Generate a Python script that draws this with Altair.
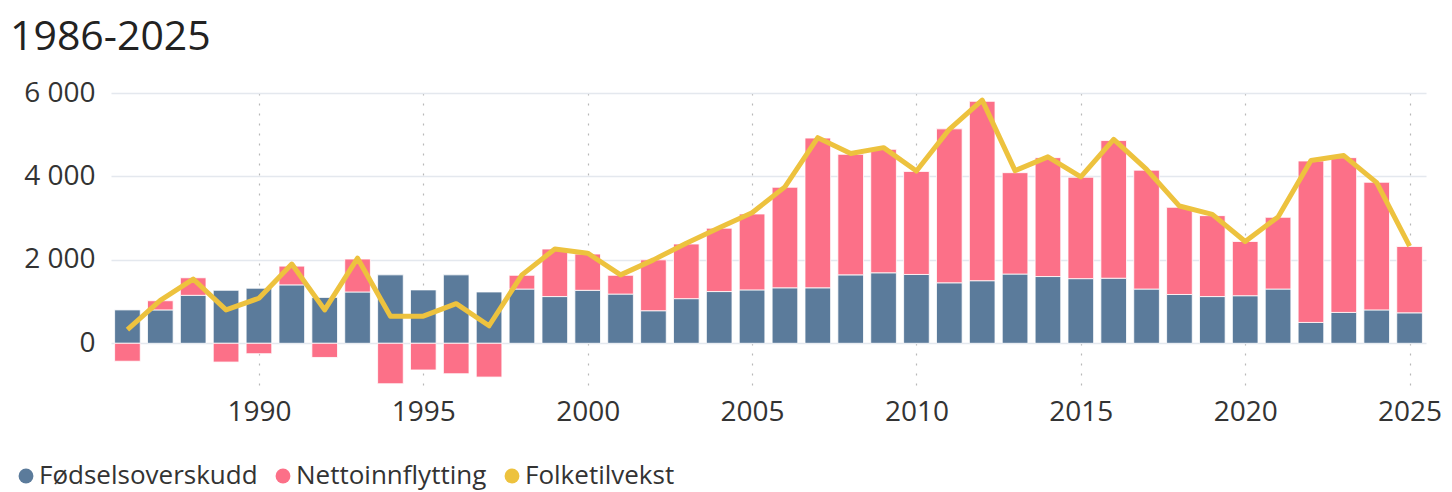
import altair as alt
import pandas as pd

years = list(range(1986, 2026))
fodselsoverskudd = [800, 800, 1150, 1270, 1320, 1400, 1100, 1230, 1640, 1280,
                    1640, 1230, 1300, 1120, 1270, 1180, 780, 1070, 1240, 1280,
                    1330, 1330, 1640, 1690, 1650, 1450, 1500, 1660, 1600, 1550,
                    1560, 1300, 1170, 1120, 1140, 1300, 500, 740, 800, 730]
nettoinnflytting = [-430, 220, 420, -450, -250, 450, -340, 790, -970, -640,
                    -730, -810, 330, 1140, 870, 450, 1220, 1310, 1520, 1820,
                    2410, 3590, 2890, 2960, 2470, 3690, 4300, 2430, 2850, 2430,
                    3300, 2850, 2090, 1940, 1300, 1720, 3870, 3710, 3060, 1590]
folketilvekst = [330, 1030, 1540, 800, 1080, 1900, 800, 2040, 650, 650,
                 950, 420, 1640, 2260, 2160, 1640, 2000, 2400, 2770, 3130,
                 3750, 4930, 4550, 4690, 4130, 5130, 5830, 4140, 4470, 3990,
                 4890, 4170, 3290, 3090, 2440, 3030, 4380, 4500, 3850, 2330]

series_names = ["Fødselsoverskudd", "Nettoinnflytting", "Folketilvekst"]
series_colors = ["#5b7b9b", "#fc7088", "#edc23e"]
x_ticks = [1990, 1995, 2000, 2005, 2010, 2015, 2020, 2025]
y_ticks = [0, 2000, 4000, 6000]
title_text = "1986-2025"

FONT = "Segoe UI, Open Sans, sans-serif"

bars_df = pd.DataFrame({
    "year": years * 2,
    "series": [series_names[0]] * len(years) + [series_names[1]] * len(years),
    "value": fodselsoverskudd + nettoinnflytting,
    "order": [0] * len(years) + [1] * len(years),
})
line_df = pd.DataFrame({
    "year": years,
    "series": [series_names[2]] * len(years),
    "value": folketilvekst,
})

color = alt.Color(
    "series:N",
    scale=alt.Scale(domain=series_names, range=series_colors),
    legend=alt.Legend(
        title=None, orient="none", direction="horizontal",
        legendX=-98, legendY=370,
        symbolType="circle", symbolSize=220, symbolStrokeWidth=0,
        labelFontSize=26, labelFont=FONT, labelColor="#333333",
        labelOffset=0, columnPadding=12, padding=0, labelLimit=0,
    ),
)

xscale = alt.Scale(domain=[1985.5, 2025.5], nice=False, zero=False)
yscale = alt.Scale(domain=[-1000, 6000], nice=False)

x_axis = alt.Axis(
    title=None, values=x_ticks, format="d", grid=True, gridColor="#b8b8b8",
    gridDash=[2, 8], gridWidth=1.2, domain=False, ticks=False,
    labelFontSize=28, labelFont=FONT, labelColor="#333333", labelPadding=13,
)
y_axis = alt.Axis(
    title=None, values=y_ticks, grid=True, gridColor="#e4e8ee", gridWidth=1.5,
    domain=False, ticks=False, labelFontSize=28, labelFont=FONT,
    labelColor="#333333", labelPadding=16,
    labelExpr="replace(format(datum.value, ','), ',', ' ')",
)

bars = (
    alt.Chart(bars_df)
    .transform_stack(stack="value", as_=["v0", "v1"], groupby=["year"],
                     sort=[alt.SortField("order", order="ascending")], offset="zero")
    .transform_calculate(x0="datum.year - 0.39", x1="datum.year + 0.39")
    .mark_bar(stroke="white", strokeWidth=1, strokeOpacity=0.8)
    .encode(
        x=alt.X("x0:Q", scale=xscale, axis=x_axis),
        x2="x1:Q",
        y=alt.Y("v0:Q", scale=yscale, axis=y_axis),
        y2="v1:Q",
        color=color,
    )
)

line = (
    alt.Chart(line_df)
    .mark_line(strokeWidth=5, strokeJoin="round")
    .encode(
        x=alt.X("year:Q", scale=xscale),
        y=alt.Y("value:Q", scale=yscale),
        color=color,
    )
)

chart = (
    alt.layer(bars, line)
    .properties(
        width=1315, height=292,
        background="white",
        autosize=alt.AutoSizeParams(type="none"),
        padding={"left": 103, "top": 85, "right": 18, "bottom": 115},
        title=alt.TitleParams(
            title_text, anchor="start", frame="bounds", dx=-3, offset=20,
            fontSize=41, font=FONT, color="#222222", fontWeight="normal",
        ),
    )
    .configure_view(strokeWidth=0, stroke="transparent")
    .configure_axis(domain=False, ticks=False)
)

chart.save("out.html", embed_options={"renderer": "svg", "actions": False})
